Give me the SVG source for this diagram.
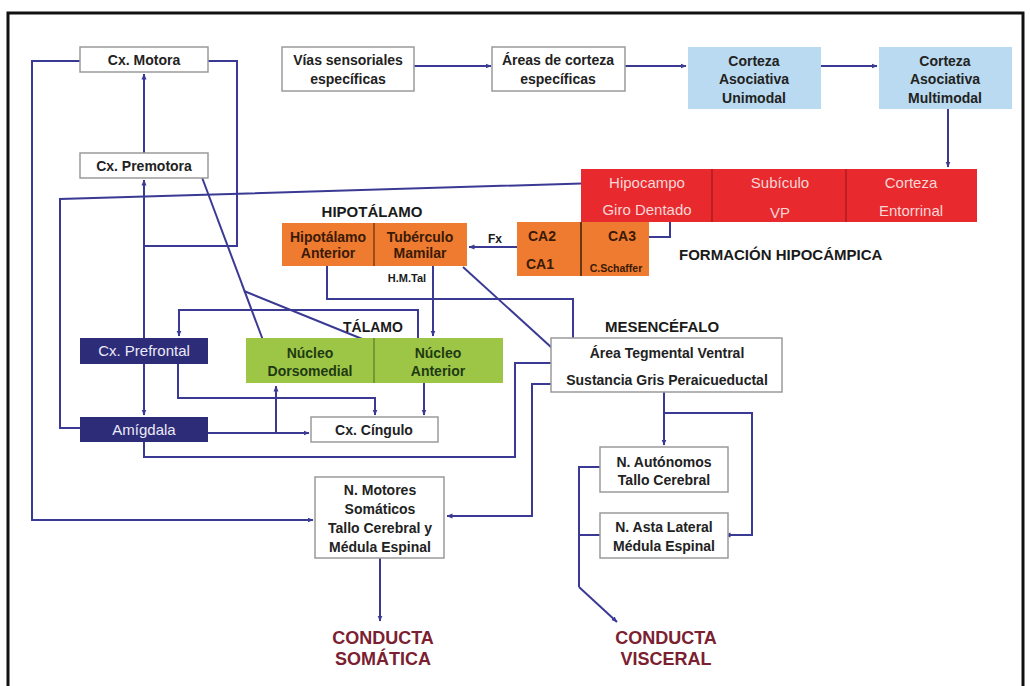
<svg xmlns="http://www.w3.org/2000/svg" width="1030" height="686" viewBox="0 0 1030 686">
<defs>
<marker id="ah" viewBox="0 0 6 6" refX="5.5" refY="3" markerWidth="6" markerHeight="6" markerUnits="userSpaceOnUse" orient="auto-start-reverse">
<path d="M0,0.5 L6,3 L0,5.5 z" fill="#3a3a94"/>
</marker>
<style>
.frame{fill:#ffffff;stroke:#111;stroke-width:3}
.wbox{fill:#ffffff;stroke:#9a9a9a;stroke-width:1.5}
.blue{fill:#b9daf0}
.red{fill:#e82a2f}
.orange{fill:#ee7b30}
.green{fill:#9dc647}
.navy{fill:#2c2c78}
.div{stroke:#6a2a10;stroke-width:1.2}
.gdiv{stroke:#5a7a2a;stroke-width:1.2}
.rdiv{stroke:#a01a1a;stroke-width:1.2}
text{font-family:"Liberation Sans",Arial,sans-serif;text-anchor:middle}
.t{font-size:14px;font-weight:bold;fill:#222}
.tw{font-size:15px;fill:#eceaf6}
.tr{font-size:15px;fill:#f8d6d6}
.to{font-size:14px;font-weight:bold;fill:#3a1a06}
.tg{font-size:14px;font-weight:bold;fill:#1f3a12}
.lab{font-size:15px;font-weight:bold;fill:#1a1a1a}
.sm{font-size:11px;font-weight:bold;fill:#1a1a1a}
.cond{font-size:18px;font-weight:bold;fill:#7b2030}
.c{fill:none;stroke:#3a3a94;stroke-width:2}
.ca{fill:none;stroke:#3a3a94;stroke-width:2;marker-end:url(#ah)}
</style>
</defs>
<rect class="frame" x="8" y="13" width="1015" height="690"/>

<g id="connectors">
<path class="ca" d="M80,61 H32 V520 H313"/>
<path class="ca" d="M144,246 H237 V61 H192"/>
<path class="ca" d="M144,153 V74"/>
<path class="ca" d="M144,338 V180"/>
<path class="ca" d="M144,364 V415"/>
<path class="ca" d="M80,428 H60 V199 L598,183"/>
<path class="ca" d="M208,433 H309"/>
<path class="ca" d="M276,433 V386"/>
<path class="ca" d="M144,442 V457 H515 V363 H558"/>
<path class="ca" d="M178,364 V398 H375 V415"/>
<path class="ca" d="M424,383 V415"/>
<path class="ca" d="M405,360 H352"/>
<path class="ca" d="M418,338 V310 H179 V336"/>
<path class="ca" d="M433,266 V336"/>
<path class="ca" d="M327,266 V299 H573 V345"/>
<path class="ca" d="M463,267 L563,358"/>
<path class="ca" d="M267,351 L200,172" style="marker-start:url(#ah)"/>
<path class="ca" d="M244,291 L387,349"/>
<path class="ca" d="M551,384 H532 V516 H447"/>
<path class="ca" d="M664,392 V445"/>
<path class="ca" d="M664,413 H752 V535 H725"/>
<path class="c" d="M600,467 H579 V587"/>
<path class="c" d="M600,535 H579"/>
<path class="ca" d="M579,587 L617,622"/>
<path class="ca" d="M380,558 V621"/>
<path class="ca" d="M414,66 H491"/>
<path class="ca" d="M625,66 H686"/>
<path class="ca" d="M821,66 H877"/>
<path class="ca" d="M948,109 V167"/>
<path class="ca" d="M873,203 H695"/>
<path class="ca" d="M670,217 V237 H643"/>
<path class="ca" d="M626,243 V257 H565"/>
<path class="ca" d="M517,247 H469"/>
</g>

<g id="cx-motora">
<rect class="wbox" x="80" y="47" width="128" height="25"/>
<text class="t" x="144" y="65">Cx. Motora</text>
</g>
<g id="cx-premotora">
<rect class="wbox" x="80" y="153" width="128" height="25"/>
<text class="t" x="144" y="171">Cx. Premotora</text>
</g>
<g id="vias-sensoriales">
<rect class="wbox" x="282" y="47" width="132" height="44"/>
<text class="t" x="348" y="65">Vías sensoriales</text>
<text class="t" x="348" y="84">específicas</text>
</g>
<g id="areas-corteza">
<rect class="wbox" x="492" y="47" width="133" height="44"/>
<text class="t" x="558" y="65">Áreas de corteza</text>
<text class="t" x="558" y="84">específicas</text>
</g>
<g id="corteza-unimodal">
<rect class="blue" x="688" y="47" width="133" height="62"/>
<text class="t" x="754" y="66">Corteza</text>
<text class="t" x="754" y="84">Asociativa</text>
<text class="t" x="754" y="103">Unimodal</text>
</g>
<g id="corteza-multimodal">
<rect class="blue" x="879" y="47" width="133" height="62"/>
<text class="t" x="945" y="66">Corteza</text>
<text class="t" x="945" y="84">Asociativa</text>
<text class="t" x="945" y="103">Multimodal</text>
</g>
<g id="formacion-hipocampica">
<rect class="red" x="581" y="169" width="396" height="53"/>
<line class="rdiv" x1="712" y1="169" x2="712" y2="222"/>
<line class="rdiv" x1="846" y1="169" x2="846" y2="222"/>
<text class="tr" x="647" y="188">Hipocampo</text>
<text class="tr" x="647" y="215">Giro Dentado</text>
<text class="tr" x="780" y="188">Subículo</text>
<text class="tr" x="780" y="218">VP</text>
<text class="tr" x="911" y="188">Corteza</text>
<text class="tr" x="911" y="216">Entorrinal</text>
<text class="lab" x="679" y="260" style="text-anchor:start">FORMACIÓN HIPOCÁMPICA</text>
</g>
<g id="ca-fields">
<rect class="orange" x="517" y="222" width="132" height="54"/>
<line x1="581" y1="222" x2="581" y2="276" stroke="#3a2210" stroke-width="1.5"/>
<text class="to" x="542" y="241">CA2</text>
<text class="to" x="540" y="269">CA1</text>
<text class="to" x="622" y="241">CA3</text>
<text class="to" x="616" y="272" style="font-size:10.5px">C.Schaffer</text>
<text class="lab" x="495" y="243" style="font-size:12px">Fx</text>
</g>
<g id="hipotalamo">
<text class="lab" x="372" y="217">HIPOTÁLAMO</text>
<rect class="orange" x="282" y="223" width="185" height="43"/>
<line class="div" x1="374" y1="223" x2="374" y2="266"/>
<text class="to" x="328" y="242">Hipotálamo</text>
<text class="to" x="328" y="258">Anterior</text>
<text class="to" x="420" y="242">Tubérculo</text>
<text class="to" x="420" y="258">Mamilar</text>
<text class="sm" x="407" y="282">H.M.Tal</text>
</g>
<g id="talamo">
<text class="lab" x="373" y="332" style="font-size:14px">TÁLAMO</text>
<rect class="green" x="246" y="338" width="257" height="45"/>
<line class="gdiv" x1="374" y1="338" x2="374" y2="383"/>
<text class="tg" x="310" y="358">Núcleo</text>
<text class="tg" x="310" y="376">Dorsomedial</text>
<text class="tg" x="438" y="358">Núcleo</text>
<text class="tg" x="438" y="376">Anterior</text>
</g>
<g id="cx-prefrontal">
<rect class="navy" x="80" y="338" width="128" height="26"/>
<text class="tw" x="144" y="356">Cx. Prefrontal</text>
</g>
<g id="amigdala">
<rect class="navy" x="80" y="417" width="128" height="25"/>
<text class="tw" x="144" y="435">Amígdala</text>
</g>
<g id="cx-cingulo">
<rect class="wbox" x="311" y="417" width="127" height="25"/>
<text class="t" x="374" y="435">Cx. Cíngulo</text>
</g>
<g id="mesencefalo">
<text class="lab" x="662" y="332">MESENCÉFALO</text>
<rect class="wbox" x="551" y="338" width="231" height="54"/>
<text class="t" x="667" y="358">Área Tegmental Ventral</text>
<text class="t" x="667" y="385">Sustancia Gris Peraicueductal</text>
</g>
<g id="n-autonomos">
<rect class="wbox" x="600" y="447" width="128" height="45"/>
<text class="t" x="664" y="467">N. Autónomos</text>
<text class="t" x="664" y="485">Tallo Cerebral</text>
</g>
<g id="n-asta-lateral">
<rect class="wbox" x="600" y="513" width="128" height="45"/>
<text class="t" x="664" y="532">N. Asta Lateral</text>
<text class="t" x="664" y="551">Médula Espinal</text>
</g>
<g id="n-motores">
<rect class="wbox" x="315" y="477" width="129" height="81"/>
<text class="t" x="380" y="495">N. Motores</text>
<text class="t" x="380" y="514">Somáticos</text>
<text class="t" x="380" y="533">Tallo Cerebral y</text>
<text class="t" x="380" y="552">Médula Espinal</text>
</g>
<g id="conducta-somatica">
<text class="cond" x="383" y="644">CONDUCTA</text>
<text class="cond" x="383" y="665">SOMÁTICA</text>
</g>
<g id="conducta-visceral">
<text class="cond" x="666" y="644">CONDUCTA</text>
<text class="cond" x="666" y="665">VISCERAL</text>
</g>
</svg>
